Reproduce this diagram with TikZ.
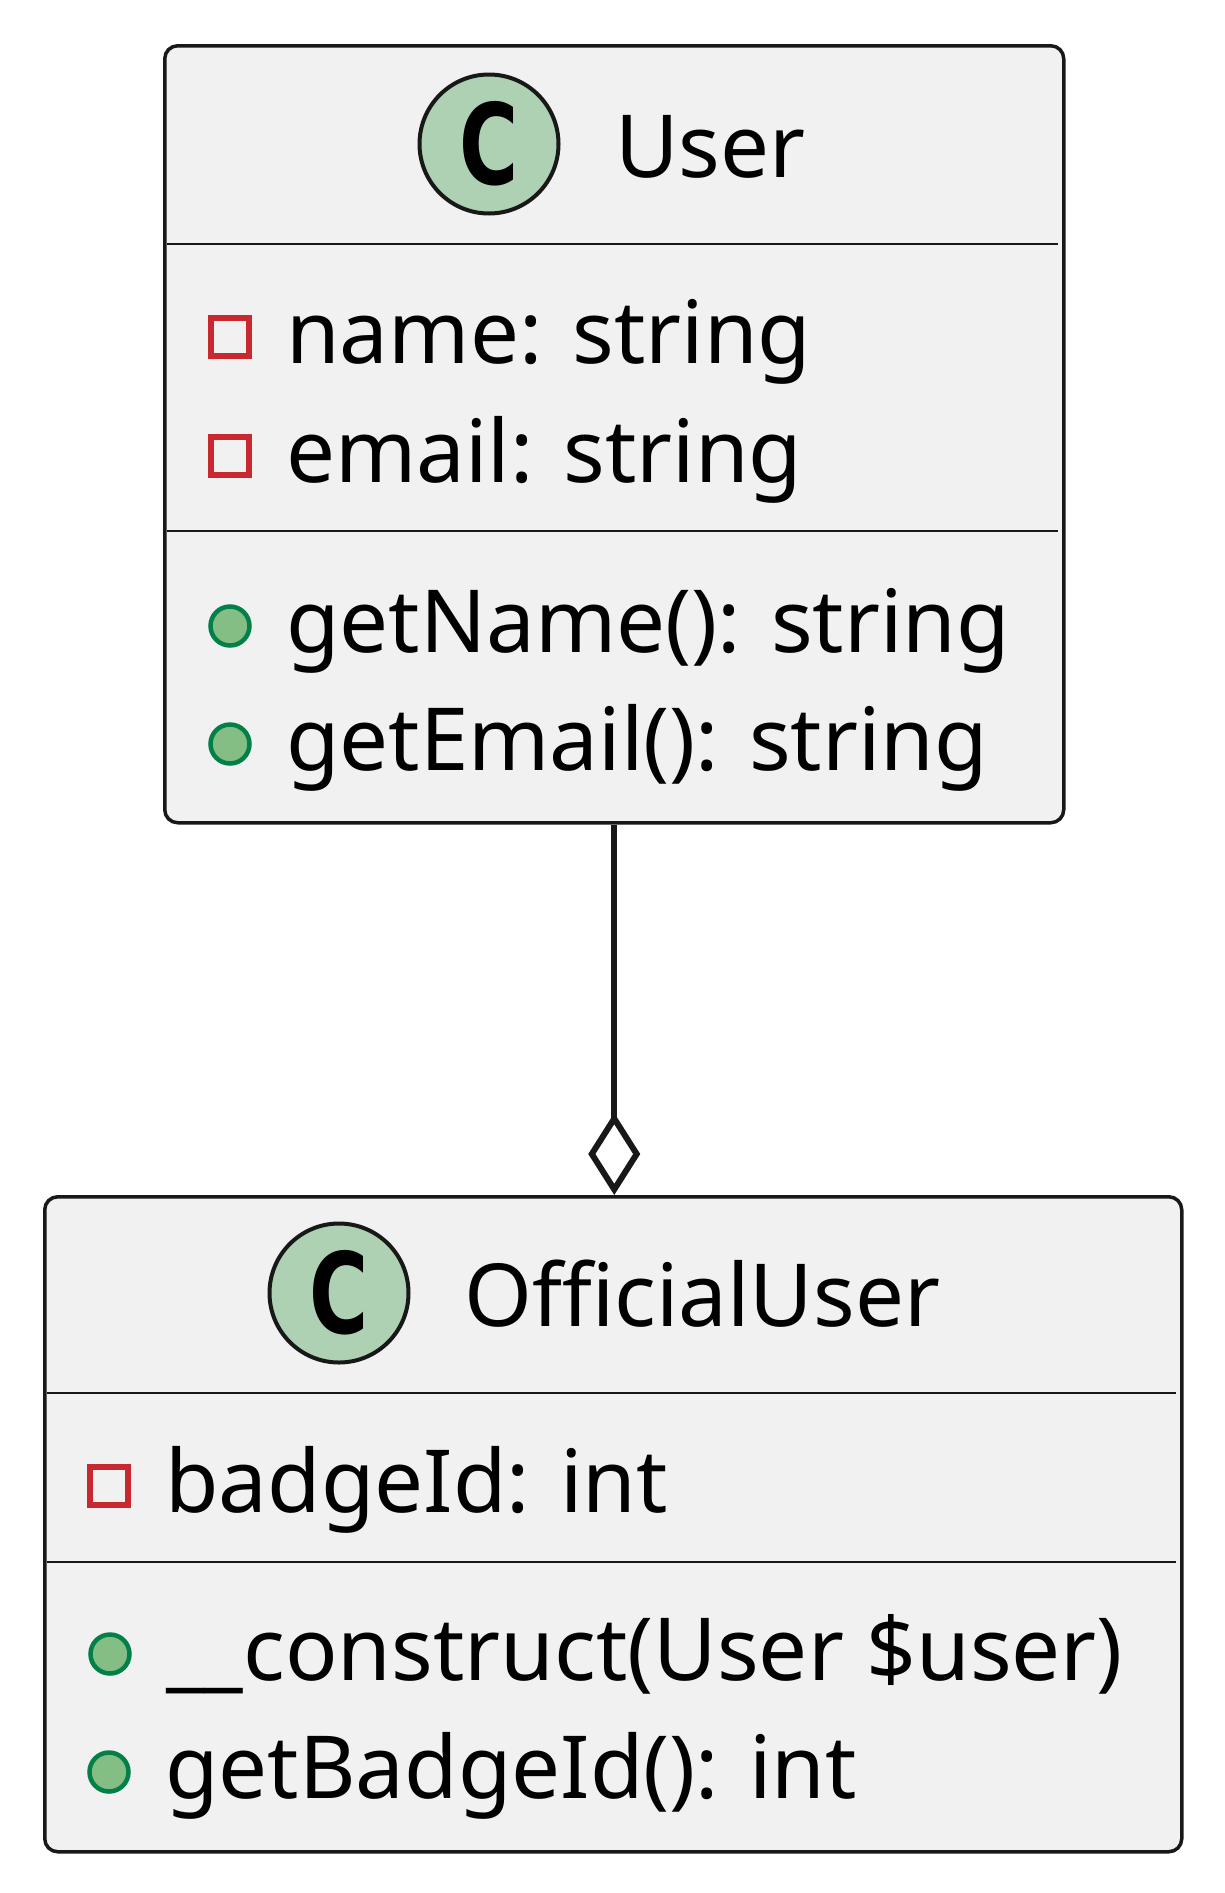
\documentclass[tikz,border=0pt]{standalone}
\usepackage{fontspec}
\setmainfont{Noto Sans}
\newfontfamily\badgefont{DejaVu Sans}
\usetikzlibrary{arrows.meta,positioning}
\definecolor{boxFill}{HTML}{F1F1F1}
\definecolor{boxEdge}{HTML}{181818}
\definecolor{badgeCol}{HTML}{ADD1B2}
\definecolor{privCol}{HTML}{C82930}
\definecolor{pubFill}{HTML}{84BE84}
\definecolor{pubEdge}{HTML}{038048}
\newcommand{\memfont}{\fontsize{87}{104}\selectfont}
\newcommand{\ttlfont}{\fontsize{87}{104}\selectfont}
\tikzset{
  classbox/.style={draw=boxEdge, fill=boxFill, line width=3.5pt, rounded corners=13pt,
                   anchor=north west, inner sep=0pt},
  sepline/.style={draw=boxEdge, line width=2.5pt},
  badge/.style={circle, draw=boxEdge, fill=badgeCol, line width=4pt, minimum size=139pt,
                inner sep=0pt, font=\badgefont\bfseries\fontsize{112}{112}\selectfont},
  ttl/.style={anchor=base west, inner sep=0pt, font=\ttlfont},
  member/.style={anchor=base west, inner sep=0pt, font=\memfont},
  privmark/.style={draw=privCol, line width=5.5pt, minimum size=38pt, inner sep=0pt},   % private field
  pubmark/.style={circle, draw=pubEdge, fill=pubFill, line width=4.5pt, minimum size=39pt,
                  inner sep=0pt},                                                     % public method
  aggr/.style={-{Diamond[open,length=82pt,width=52pt]}, draw=boxEdge, line width=6pt},
}
% #1 name, #2 text x, #3 baseline y, #4 text
\newcommand{\priv}[4]{%
  \node[privmark] (#1m) at (#2-56,#3-26) {};
  \node[member] (#1) at (#2,#3) {#4};}
\newcommand{\pub}[4]{%
  \node[pubmark] (#1m) at (#2-56,#3-26) {};
  \node[member] (#1) at (#2,#3) {#4};}
\newcommand{\badgeC}{\scalebox{0.72}[1]{C}}

\begin{document}
\begin{tikzpicture}[x=1pt, y=-1pt]
  \useasboundingbox (0,0) rectangle (1225,1893);
  \def\UL{163}\def\OL{43}

  % User
  \node[classbox, minimum width=899pt, minimum height=777pt] (user) at (\UL,44) {};
  \node[badge] (userC) at (489,144) {\badgeC};
  \node[ttl] (userT) at (615,177) {User};
  \draw[sepline] (\UL+4,244) -- (\UL+895,244);
  \priv{uName}{286}{363}{name: string}
  \priv{uMail}{286}{482}{email: string}
  \draw[sepline] (\UL+4,531) -- (\UL+895,531);
  \pub{uGetName}{286}{652}{getName(): string}
  \pub{uGetMail}{286}{770}{getEmail(): string}

  % OfficialUser
  \node[classbox, minimum width=1137pt, minimum height=655pt] (official) at (\OL,1195) {};
  \node[badge] (offC) at (339,1293) {\badgeC};
  \node[ttl] (offT) at (464,1326) {OfficialUser};
  \draw[sepline] (\OL+4,1393) -- (\OL+1133,1393);
  \priv{oBadge}{165}{1512}{badgeId: int}
  \draw[sepline] (\OL+4,1562) -- (\OL+1133,1562);
  \pub{oCons}{166}{1680}{\_\_construct(User \$user)}
  \pub{oGetBadge}{165}{1798}{getBadgeId(): int}

  \draw[aggr] (user.south) -- (user.south |- official.north);
\end{tikzpicture}
\end{document}
